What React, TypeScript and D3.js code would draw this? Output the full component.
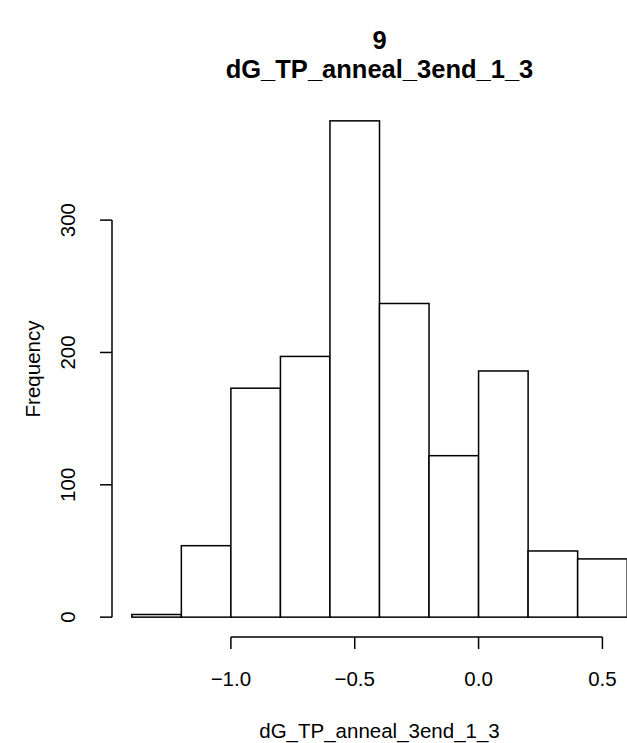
import React from 'react';
import * as d3 from 'd3';

// histogram bins (left edges) and counts
const binStarts = [-1.4, -1.2, -1.0, -0.8, -0.6, -0.4, -0.2, 0.0, 0.2, 0.4];
const binWidth = 0.2;
const counts = [2, 54, 173, 197, 375, 237, 122, 186, 50, 44];
const xTicks = [-1.0, -0.5, 0.0, 0.5];
const yTicks = [0, 100, 200, 300];
const titleLines = ['9', 'dG_TP_anneal_3end_1_3'];
const xLabel = 'dG_TP_anneal_3end_1_3';
const yLabel = 'Frequency';

const W = 627;
const H = 743;
const plot = { left: 112, right: 647, top: 101, bottom: 637 };
const font = '"Liberation Sans", Arial, Helvetica, sans-serif';
const axisSize = 20.5;

const fmt = (v: number) => d3.format('.1f')(v).replace('-', '\u2212');

export default function App() {
  const xMin = binStarts[0];
  const xMax = binStarts[binStarts.length - 1] + binWidth;
  const xPad = (xMax - xMin) * 0.04;
  const x = d3.scaleLinear().domain([xMin - xPad, xMax + xPad]).range([plot.left, plot.right]);

  const yMax = d3.max(counts) as number;
  const yPad = yMax * 0.04;
  const y = d3.scaleLinear().domain([-yPad, yMax + yPad]).range([plot.bottom, plot.top]);

  const cx = (plot.left + plot.right) / 2;
  const cy = (plot.top + plot.bottom) / 2;

  return (
    <svg width={W} height={H} style={{ position: 'absolute', left: 0, top: 0, background: '#fff' }}>
      <rect x={0} y={0} width={W} height={H} fill="#fff" />
      {titleLines.map((t, i) => (
        <text key={t} x={cx} y={49 + i * 29} textAnchor="middle" fontFamily={font}
          fontWeight="bold" fontSize={25.5}>{t}</text>
      ))}

      {counts.map((c, i) => (
        <rect key={i}
          x={x(binStarts[i])}
          y={y(c)}
          width={x(binStarts[i] + binWidth) - x(binStarts[i])}
          height={y(0) - y(c)}
          fill="#fff" stroke="#000" strokeWidth={1.5} />
      ))}

      {/* x axis */}
      <line x1={x(xTicks[0])} x2={x(xTicks[xTicks.length - 1])} y1={plot.bottom} y2={plot.bottom}
        stroke="#000" strokeWidth={1.5} />
      {xTicks.map(t => (
        <g key={t}>
          <line x1={x(t)} x2={x(t)} y1={plot.bottom} y2={plot.bottom + 12} stroke="#000" strokeWidth={1.5} />
          <text x={x(t)} y={686} textAnchor="middle" fontFamily={font} fontSize={axisSize}>{fmt(t)}</text>
        </g>
      ))}
      <text x={cx} y={738} textAnchor="middle" fontFamily={font} fontSize={axisSize}>{xLabel}</text>

      {/* y axis */}
      <line x1={plot.left} x2={plot.left} y1={y(yTicks[0])} y2={y(yTicks[yTicks.length - 1])}
        stroke="#000" strokeWidth={1.5} />
      {yTicks.map(t => (
        <g key={t}>
          <line x1={plot.left} x2={plot.left - 12} y1={y(t)} y2={y(t)} stroke="#000" strokeWidth={1.5} />
          <text transform={`translate(75,${y(t)}) rotate(-90)`} textAnchor="middle"
            fontFamily={font} fontSize={axisSize}>{t}</text>
        </g>
      ))}
      <text transform={`translate(40,${cy}) rotate(-90)`} textAnchor="middle"
        fontFamily={font} fontSize={axisSize}>{yLabel}</text>
    </svg>
  );
}
